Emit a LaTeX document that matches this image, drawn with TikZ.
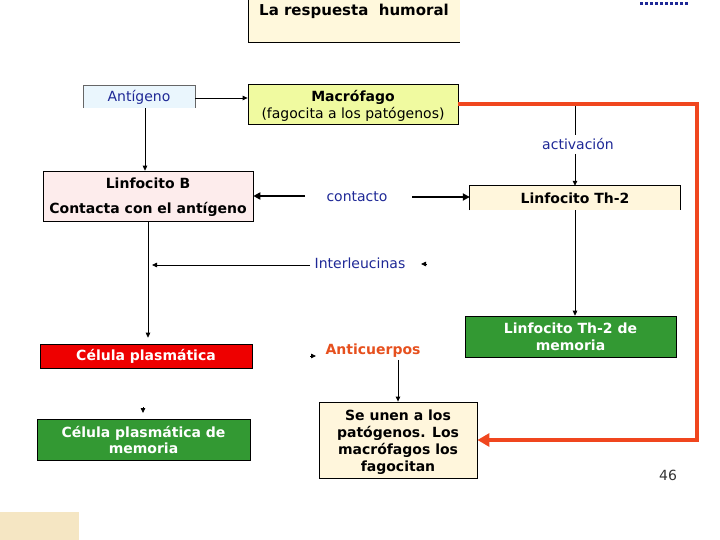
\documentclass[tikz,border=0pt]{standalone}
\usepackage{fontspec}
\setmainfont{DejaVu Sans}
\usetikzlibrary{arrows.meta}
\definecolor{titlefill}{RGB}{255,248,220}
\definecolor{antfill}{RGB}{234,246,253}
\definecolor{bluetext}{RGB}{30,40,150}
\definecolor{macfill}{RGB}{240,250,160}
\definecolor{lbfill}{RGB}{253,236,236}
\definecolor{thfill}{RGB}{255,246,220}
\definecolor{greenfill}{RGB}{51,153,51}
\definecolor{redfill}{RGB}{238,0,0}
\definecolor{orangered}{RGB}{240,70,30}
\definecolor{antitext}{RGB}{230,80,30}
\definecolor{patfill}{RGB}{245,230,195}
\begin{document}
\begin{tikzpicture}[x=1pt,y=-1pt,
  box/.style={rectangle, inner sep=0pt, align=center, font=\fontsize{14}{16}\selectfont\bfseries},
  lbl/.style={inner sep=0pt, font=\fontsize{14}{16}\selectfont},
  thin arrow/.style={line width=0.8pt, -{Triangle[length=5pt,width=4.5pt]}},
  thick arrow/.style={line width=2.5pt, -{Triangle[length=7pt,width=7pt]}},
  red arrow/.style={draw=orangered, line width=4pt, -{Triangle[length=12pt,width=13pt]}},
  head/.style={line width=0.8pt, -{Triangle[length=5pt,width=4.5pt]}}
]
\useasboundingbox (0,0) rectangle (720,540);

% title
\node[box, fill=titlefill, minimum width=211pt, minimum height=42pt] (title) at (354.5,21) {};
\node[box, anchor=center, font=\fontsize{15}{16}\selectfont\bfseries] (titletext) at (354,11) {La respuesta\ \ humoral};
\draw[line width=0.8pt] (title.north west) -- (title.south west) -- (title.south east);

% top right dots
\coordinate (dotsA) at (640,4);
\coordinate (dotsB) at (688,4);
\draw[bluetext, line width=3pt, dotted] (dotsA) -- (dotsB);

% Antigeno
\node[lbl, fill=antfill, text=bluetext, minimum width=112pt, minimum height=22pt] (antigen) at (139,97) {Antígeno};
\draw[line width=0.6pt, black!60] (antigen.south west) -- (antigen.north west) -- (antigen.north east) -- (antigen.south east);

% Macrofago
\node[box, draw, line width=0.8pt, fill=macfill, minimum width=210pt, minimum height=40pt, font=\fontsize{14}{17}\selectfont\bfseries] (mac) at (353,104) {};
\node[box, font=\fontsize{14}{17}\selectfont\bfseries] (mactext) at (353,106) {Macrófago\\\mdseries(fagocita a los patógenos)};
\draw[thin arrow] ([yshift=-1pt]antigen.east) -- ([yshift=-1pt]antigen.east -| mac.west);

% Linfocito B
\node[box, draw, line width=0.6pt, fill=lbfill, minimum width=210pt, minimum height=50pt, font=\fontsize{14}{25}\selectfont\bfseries] (lb) at (148,196) {};
\node[box, font=\fontsize{14}{25}\selectfont\bfseries] (lbtext) at (148,197) {Linfocito B\\Contacta con el antígeno};
\draw[thin arrow] ([xshift=6pt]antigen.south) -- ([xshift=6pt]antigen.south |- lb.north);

% Th-2
\node[box, fill=thfill, minimum width=210pt, minimum height=24pt] (th2) at (575,198) {Linfocito Th-2};
\draw[line width=0.8pt] (th2.south west) -- (th2.north west) -- (th2.north east) -- (th2.south east);

% activacion
\node[lbl, text=bluetext] (act) at (578,144) {activación};
\coordinate (redtap) at (575,104);
\draw[line width=0.8pt] (redtap) -- ([yshift=3pt]redtap |- act.north);
\draw[thin arrow] ([yshift=-4pt]act.south -| th2.north) -- (th2.north);

% contacto
\node[lbl, text=bluetext] (cont) at (357,197) {contacto};
\coordinate (contL) at (305,196);
\coordinate (contR) at (412,197);
\draw[thick arrow] (contL) -- (contL -| lb.east);
\draw[thick arrow] (contR) -- (contR -| th2.west);

% Interleucinas
\node[lbl, text=bluetext] (il) at (360,263) {Interleucinas};
\coordinate (ilstart) at (310,265);
\coordinate (ilend) at (152,265);
\draw[thin arrow] (ilstart) -- (ilend);
\coordinate (ilheadA) at (427,264);
\coordinate (ilheadB) at (421,264);
\draw[head] (ilheadA) -- (ilheadB);

% Celula plasmatica
\node[box, draw, line width=0.6pt, fill=redfill, text=white, minimum width=212pt, minimum height=24pt] (cp) at (146,356) {Célula plasmática};
\draw[thin arrow] (lb.south) -- ([yshift=6pt]lb.south |- cp.north);

% Celula plasmatica de memoria
\coordinate (cpheadA) at (143,407);
\coordinate (cpheadB) at (143,413);
\draw[head] (cpheadA) -- (cpheadB);
\node[box, draw, line width=0.6pt, fill=greenfill, text=white, minimum width=213pt, minimum height=41pt] (cpm) at (143.5,439.5) {Célula plasmática de\\memoria};

% Anticuerpos
\node[box, text=antitext] (anti) at (373,351) {Anticuerpos};
\coordinate (antiheadA) at (310,356);
\coordinate (antiheadB) at (316,356);
\draw[head] (antiheadA) -- (antiheadB);

% Se unen
\node[box, draw, line width=0.8pt, fill=thfill, minimum width=158pt, minimum height=76pt] (su) at (398,440) {};
\node[box, font=\fontsize{14}{17}\selectfont\bfseries] (sutext) at (398,442) {Se unen a los\\patógenos. Los\\macrófagos los\\fagocitan};
\draw[thin arrow] ([yshift=-2pt]su.north |- anti.south) -- (su.north);

% Th-2 memoria
\node[box, draw, line width=0.6pt, fill=greenfill, text=white, minimum width=211pt, minimum height=41pt, font=\fontsize{14}{17}\selectfont\bfseries] (th2m) at (570.5,336.5) {Linfocito Th-2 de\\memoria};
\draw[thin arrow] (th2.south) -- (th2.south |- th2m.north);

% red connector
\draw[red arrow] (mac.east) -- ++(239,0) |- (su.east);

% page number
\node[lbl, text=black!80] (page) at (668,475) {46};

% bottom-left patch
\node[inner sep=0pt, fill=patfill, minimum width=79pt, minimum height=28pt, anchor=south west] (patch) at (0,540) {};
\end{tikzpicture}
\end{document}
